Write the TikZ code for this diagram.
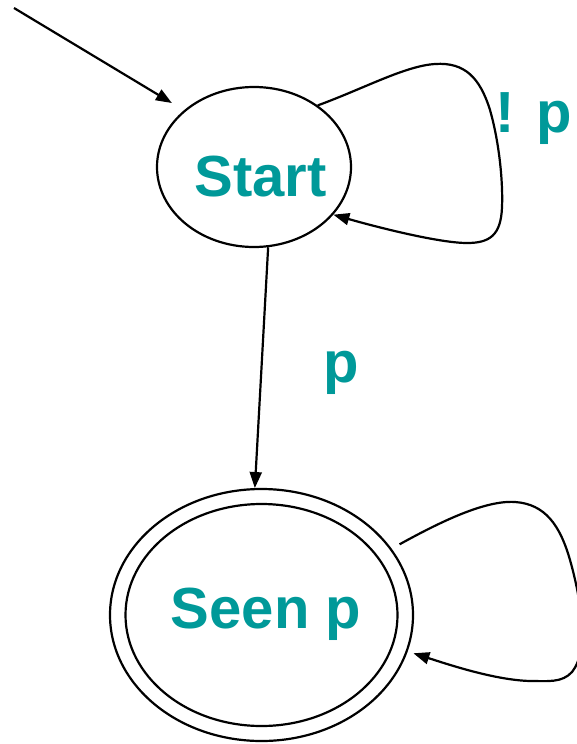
\documentclass[tikz,border=0pt]{standalone}
\usepackage{fontspec}
\setmainfont{Liberation Sans}
\usetikzlibrary{arrows.meta,shapes.geometric}
\definecolor{teal}{RGB}{0,153,153}
\begin{document}
\begin{tikzpicture}[x=1pt,y=-1pt,
  line width=2.2pt,
  statebox/.style={draw,ellipse,inner sep=0pt},
  lbl/.style={text=teal,font=\fontsize{58}{60}\selectfont\bfseries,inner sep=0pt,anchor=base},
  arr/.style={-{Triangle[length=16pt,width=12pt]}}]
\fill[white] (0,0) rectangle (576,744);
\useasboundingbox (0,0) rectangle (576,744);
% states
\node[statebox,minimum width=194pt,minimum height=160pt] (start) at (254,167) {};
\node[lbl] (starttxt) at (260.5,196) {Start};
\node[statebox,minimum width=303pt,minimum height=252pt] (seen) at (261.5,615) {};
\node[statebox,minimum width=272pt,minimum height=222pt] (seeninner) at (261.5,615) {};
\node[lbl] (seentxt) at (266,628) {Seen p};
% labels
\node[lbl] (lp) at (341.5,382) {p};
\node[lbl] (lnp) at (533.5,132) {! p};
% initial arrow
\coordinate (init) at (14,8);
\draw[arr,shorten >=14pt] (init) -- (start.141.7);
% start -> seen
\draw[arr] (start.-80) -- (seen.93);
% start self-loop
\draw[arr] (start.44) .. controls (365,88) and (405,66) .. (435,64)
  .. controls (465,62) and (480,78) .. (490,110)
  .. controls (500,145) and (503,185) .. (502,207)
  .. controls (501,235) and (490,243) .. (467,243)
  .. controls (440,243) and (380,228) .. (start.-31);
% seen self-loop
\draw[arr,shorten <=9pt,shorten >=6pt] (seen.27) .. controls (440,522) and (485,500) .. (515,502)
  .. controls (545,504) and (560,525) .. (570,560)
  .. controls (580,595) and (590,650) .. (572,672)
  .. controls (562,683) and (548,681) .. (530,681)
  .. controls (495,680) and (450,665) .. (seen.-14);
\end{tikzpicture}
\end{document}
